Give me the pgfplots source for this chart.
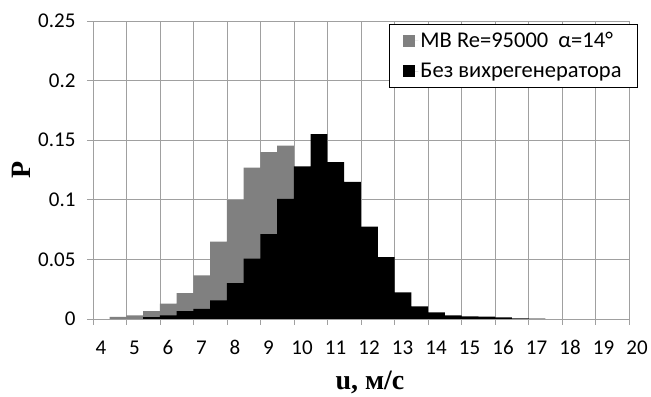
\documentclass[border=0pt]{standalone}
\usepackage{pgfplots}
\pgfplotsset{compat=1.18}
\usepackage{fontspec}
\setmainfont{Carlito}
\newfontfamily\lblfont{Liberation Serif}
\usetikzlibrary{calc}
\definecolor{gridc}{RGB}{160,160,160}
\definecolor{barg}{RGB}{128,128,128}
\begin{document}
\begin{tikzpicture}
\begin{axis}[
  name=ax,
  scale only axis,
  width=536pt, height=298pt,
  xmin=4, xmax=20, ymin=0, ymax=0.25,
  xtick={4,5,...,20},
  ytick={0,0.05,0.1,0.15,0.2,0.25},
  yticklabels={0,0.05,0.1,0.15,0.2,0.25},
  grid=major,
  major grid style={gridc, line width=0.9pt},
  axis line style={gridc, line width=0.9pt},
  axis x line*=bottom, axis y line*=left,
  tick align=outside,
  major tick length=6pt,
  tick style={gridc, line width=0.9pt},
  ticklabel style={font=\fontsize{21}{24}\selectfont, text=black},
  /pgf/number format/assume math mode=true,
  xticklabel style={anchor=north, inner sep=0pt, text height=13.5pt, text depth=0pt, yshift=-16pt, xshift=8pt},
  yticklabel style={xshift=-8pt},
  xlabel={\lblfont\bfseries u, м/с},
  ylabel={\lblfont\bfseries P},
  label style={font=\fontsize{28}{30}\selectfont},
  xlabel style={at={(axis description cs:0.5,0)}, anchor=base, yshift=-71pt, xshift=9pt},
  ylabel style={rotate=0, yshift=1pt},
  legend cell align=left,
  legend style={at={(1.0168,0.99)}, anchor=north east, draw=black, line width=1pt, fill=white,
    font=\fontsize{22.5}{24}\selectfont, row sep=10pt, inner xsep=14pt, inner ysep=6pt},
  legend image code/.code={\fill[#1] (0pt,-6pt) rectangle (12pt,6pt); \path (0pt,0pt) -- (15pt,0pt);},
]
\addplot[fill=barg, draw=none, const plot] coordinates {
 (4.5,0.0017) (5.0,0.003) (5.5,0.0065) (6.0,0.0128) (6.5,0.0218) (7.0,0.0366)
 (7.5,0.065) (8.0,0.0998) (8.5,0.127) (9.0,0.140) (9.5,0.1454) (10.0,0.1454)
} \closedcycle;
\addlegendentry{MB Re=95000\ \ α=14°}
\addplot[fill=black, draw=none, const plot] coordinates {
 (5.5,0.0015) (6.0,0.003) (6.5,0.0065) (7.0,0.0084) (7.5,0.0157) (8.0,0.030)
 (8.5,0.0506) (9.0,0.0713) (9.5,0.1007) (10.0,0.128) (10.5,0.155) (11.0,0.1315)
 (11.5,0.115) (12.0,0.0775) (12.5,0.052) (13.0,0.0224) (13.5,0.0106) (14.0,0.0056)
 (14.5,0.003) (15.0,0.0022) (15.5,0.002) (16.0,0.0014) (16.5,0.0006) (17.0,0.0003)
 (17.5,0.0003)
} \closedcycle;
\addlegendentry{Без вихрегенератора}
\end{axis}
\pgfresetboundingbox
\path[use as bounding box] ($(ax.south west)+(-93pt,-78pt)$) rectangle ($(ax.north east)+(22pt,21pt)$);
\end{tikzpicture}
\end{document}
